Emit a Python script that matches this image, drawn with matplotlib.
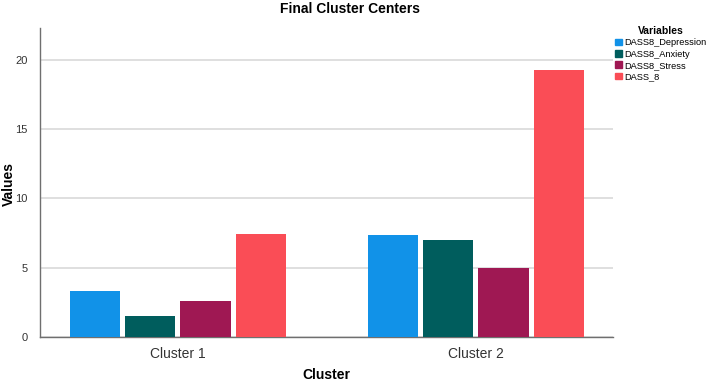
import numpy as np
import matplotlib
matplotlib.use('Agg')
import matplotlib.pyplot as plt
from matplotlib.patches import Patch

clusters = ['Cluster 1', 'Cluster 2']
variables = ['DASS8_Depression', 'DASS8_Anxiety', 'DASS8_Stress', 'DASS_8']
depression = [3.35, 7.35]
anxiety = [1.5, 7.0]
stress = [2.6, 5.0]
dass8 = [7.4, 19.3]
colors = ['#1192e8', '#005d5d', '#9f1853', '#fa4d56']

plt.rcParams['font.family'] = ['Liberation Sans', 'DejaVu Sans']

fig = plt.figure(figsize=(7.08, 3.84), dpi=100)
ax = fig.add_axes([40/708, 1-337/384, 573/708, 309/384])

x = np.arange(len(clusters))
width = 0.168
step = 0.185
series = [depression, anxiety, stress, dass8]
for i, vals in enumerate(series):
    ax.bar(x + (i - 1.5)*step, vals, width, color=colors[i], zorder=3)

ax.set_xlim(-0.463, 1.46)
ax.set_ylim(0, 22.3)
ax.set_yticks([0, 5, 10, 15, 20])
ax.set_xticks(x)
ax.set_xticklabels(clusters, fontsize=10, color='#333333')
ax.tick_params(axis='both', length=0, pad=7, colors='#333333')
ax.tick_params(axis='y', labelsize=8, pad=9)
ax.grid(axis='y', color='#d9d9d9', linewidth=1.2, zorder=0)
for s in ['top', 'right']:
    ax.spines[s].set_visible(False)
for s in ['left', 'bottom']:
    ax.spines[s].set_color('#6f6f6f')
    ax.spines[s].set_linewidth(1.0)

# axis labels placed by hand, tight layout would shrink the axes
fig.text(9/708, 1-184/384, 'Values', rotation=90, ha='center', va='center',
         fontsize=10, fontweight='bold')
fig.text(326/708, 1-375/384, 'Cluster', ha='center', va='center',
         fontsize=10, fontweight='bold')
fig.text(350/708, 1-9/384, 'Final Cluster Centers', ha='center', va='center',
         fontsize=10, fontweight='bold')

handles = [Patch(color=c, label=v) for c, v in zip(colors, variables)]
leg = fig.legend(handles=handles, title='Variables', loc='upper left',
                 bbox_to_anchor=(615/708, 1-26/384), frameon=False, fontsize=6.7,
                 title_fontproperties={'weight': 'bold', 'size': 7.5},
                 handlelength=0.75, handleheight=0.75, handletextpad=0.25,
                 labelspacing=0.25, borderaxespad=0, borderpad=0)

fig.savefig('out.png', dpi=100)
